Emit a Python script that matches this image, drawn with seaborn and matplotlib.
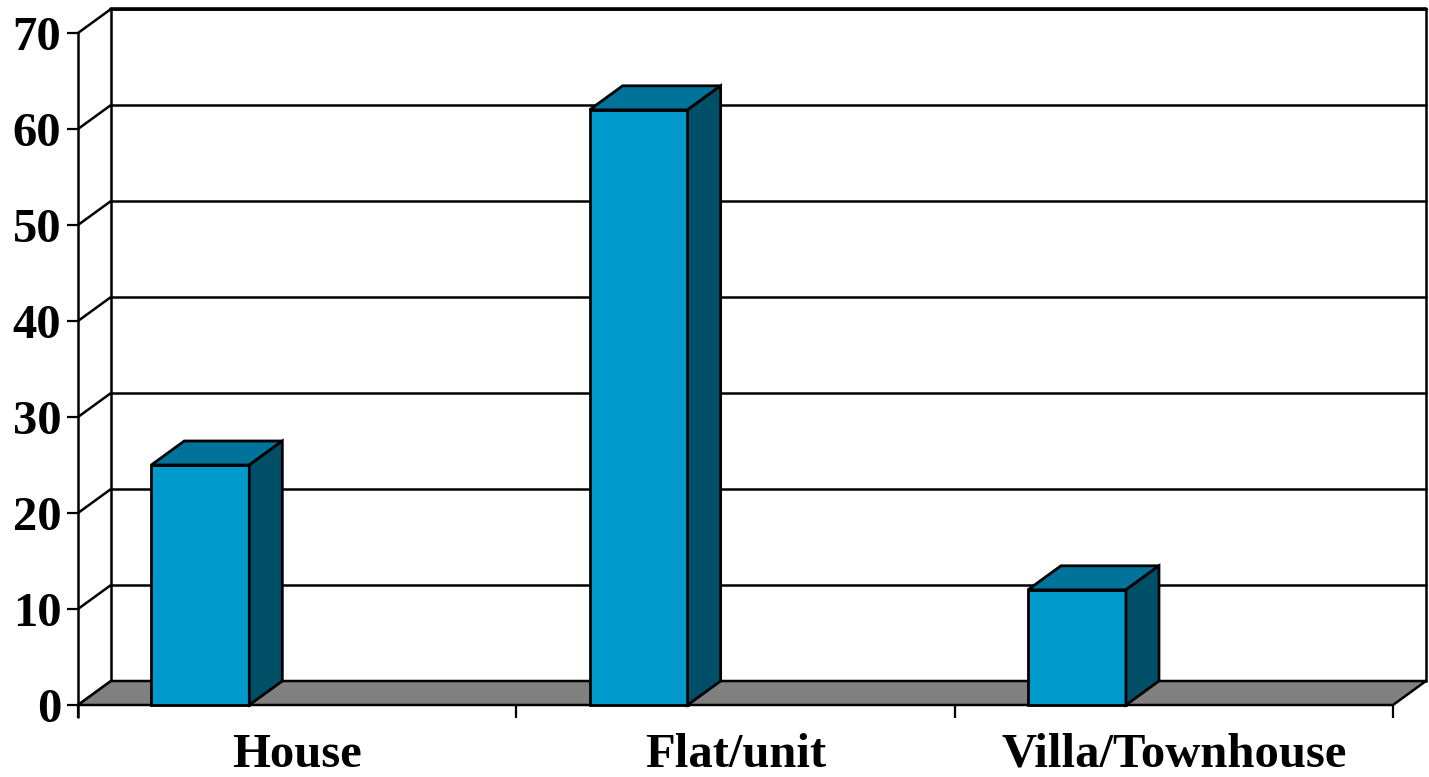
import matplotlib
matplotlib.use("Agg")
import matplotlib.pyplot as plt
from matplotlib.patches import Polygon
import seaborn as sns

categories = ["House", "Flat/unit", "Villa/Townhouse"]
values = [25, 62, 12]
y_ticks = [0, 10, 20, 30, 40, 50, 60, 70]

front_col = "#009ACD"
top_col = "#00739A"
side_col = "#004F68"
floor_col = "#808080"

# oblique depth offset (data units)
dx, dy = 0.0753, 2.5
shift = -0.221
bar_w = 0.2236
ymax = 70

sns.set_theme(style="white")
plt.rcParams["font.family"] = ["Liberation Serif", "DejaVu Serif"]
plt.rcParams["font.weight"] = "bold"
plt.rcParams["text.color"] = "black"
plt.rcParams["xtick.color"] = "black"
plt.rcParams["ytick.color"] = "black"

fig = plt.figure(figsize=(14.29, 7.77), dpi=100)
ax = fig.add_axes([78 / 1429, 72 / 777, (1426 - 78) / 1429, (705 - 9) / 777])

sns.barplot(x=categories, y=values, width=bar_w, color=front_col,
            edgecolor="black", linewidth=2, saturation=1, ax=ax)

x0, x1 = -0.5, len(categories) - 0.5
lw = 1.8

# back wall gridlines and left wall diagonals
for v in y_ticks:
    ax.plot([x0 + dx, x1 + dx], [v + dy, v + dy], color="black", lw=lw,
            zorder=1, clip_on=False)
    ax.plot([x0, x0 + dx], [v, v + dy], color="black", lw=lw, zorder=1,
            clip_on=False)
ax.plot([x0 + dx, x1 + dx], [ymax + dy] * 2, color="black", lw=2.6, zorder=1,
        clip_on=False)
ax.plot([x0 + dx] * 2, [dy, ymax + dy], color="black", lw=lw, zorder=1, clip_on=False)
ax.plot([x1 + dx] * 2, [dy, ymax + dy], color="black", lw=lw, zorder=1, clip_on=False)

# floor
floor = Polygon([(x0, 0), (x1, 0), (x1 + dx, dy), (x0 + dx, dy)],
                closed=True, facecolor=floor_col, edgecolor="black", lw=lw,
                zorder=2, clip_on=False)
ax.add_patch(floor)

# front vertical axis
ax.plot([x0, x0], [-1.3, ymax], color="black", lw=lw, zorder=2, clip_on=False)

# 3D bars
for p in ax.patches:
    if p is floor:
        continue
    p.set_x(p.get_x() + shift)
    p.set_zorder(4)
    p.set_clip_on(False)
    bx, bw, bh = p.get_x(), p.get_width(), p.get_height()
    top = Polygon([(bx, bh), (bx + bw, bh), (bx + bw + dx, bh + dy), (bx + dx, bh + dy)],
                  closed=True, facecolor=top_col, edgecolor="black", lw=2,
                  zorder=4, clip_on=False)
    side = Polygon([(bx + bw, 0), (bx + bw + dx, dy), (bx + bw + dx, bh + dy), (bx + bw, bh)],
                   closed=True, facecolor=side_col, edgecolor="black", lw=2,
                   zorder=4, clip_on=False)
    ax.add_patch(top)
    ax.add_patch(side)

ax.set_xlim(x0, x1 + dx)
ax.set_ylim(0, ymax + dy)
ax.set_yticks(y_ticks)
ax.set_yticklabels([str(t) for t in y_ticks], fontsize=35, fontweight="bold",
                   color="black")
ax.set_xticks(range(len(categories)))
ax.set_xticklabels(categories, fontsize=35, fontweight="bold", color="black")
ax.set_xticks([x0 + i for i in range(len(categories) + 1)], minor=True)
ax.tick_params(axis="x", which="major", length=0, pad=20)
ax.tick_params(axis="x", which="minor", length=9, width=1.6, direction="out",
               bottom=True, color="black")
ax.tick_params(axis="y", which="major", length=8, width=1.6, direction="out",
               left=True, color="black", pad=4)
for s in ax.spines.values():
    s.set_visible(False)
ax.set_xlabel("")
ax.set_ylabel("")
ax.grid(False)

fig.savefig("out.png", dpi=100)
